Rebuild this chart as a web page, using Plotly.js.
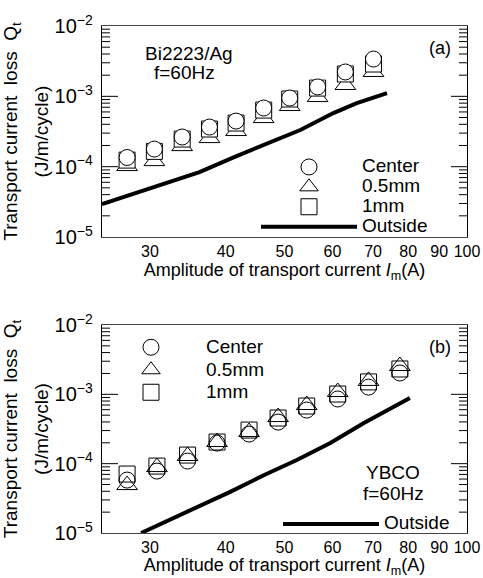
<!DOCTYPE html>
<html>
<head>
<meta charset="utf-8">
<script src="https://cdn.plot.ly/plotly-3.0.1.min.js"></script>
<style>html,body{margin:0;padding:0;background:#fff;}#chart{width:483px;height:578px;}</style>
</head>
<body>
<div id="chart"></div>
<script>
// ---- Data ----
// (a) Bi2223/Ag, f=60Hz
const currentA = [27.5, 30.5, 33.9, 37.6, 41.6, 46.2, 51.0, 56.7, 63.0, 70.1];
const lossCenterA = [1.35e-4, 1.78e-4, 2.64e-4, 3.66e-4, 4.45e-4, 6.82e-4, 9.46e-4, 1.36e-3, 2.22e-3, 3.39e-3];
const loss05mmA = [1.02e-4, 1.20e-4, 1.96e-4, 2.55e-4, 3.21e-4, 4.91e-4, 7.28e-4, 9.77e-4, 1.45e-3, 2.22e-3];
const loss1mmA = [1.24e-4, 1.65e-4, 2.47e-4, 3.43e-4, 4.17e-4, 6.38e-4, 9.16e-4, 1.31e-3, 2.08e-3, 2.88e-3];
const outsideCurrentA = [25.0, 31.2, 36.2, 41.3, 47.0, 53.1, 60.2, 65.8, 73.8];
const outsideLossA = [2.94e-5, 5.47e-5, 8.38e-5, 1.37e-4, 2.17e-4, 3.32e-4, 5.78e-4, 8.03e-4, 1.11e-3];

// (b) YBCO, f=60Hz
const currentB = [27.5, 30.8, 34.6, 38.7, 43.7, 48.8, 54.4, 61.2, 68.8, 77.5];
const lossCenterB = [5.80e-5, 7.82e-5, 1.09e-4, 1.98e-4, 2.67e-4, 3.98e-4, 5.93e-4, 8.56e-4, 1.27e-3, 2.03e-3];
const loss05mmB = [4.91e-5, 8.93e-5, 1.29e-4, 2.05e-4, 2.86e-4, 4.70e-4, 7.01e-4, 1.08e-3, 1.56e-3, 2.56e-3];
const loss1mmB = [7.08e-5, 9.23e-5, 1.33e-4, 2.05e-4, 3.05e-4, 4.55e-4, 6.78e-4, 1.01e-3, 1.51e-3, 2.32e-3];
const outsideCurrentB = [29.0, 34.3, 40.6, 46.3, 52.4, 59.5, 67.6, 80.5];
const outsideLossB = [1.0e-5, 1.94e-5, 3.89e-5, 6.85e-5, 1.127e-4, 1.98e-4, 3.85e-4, 8.84e-4];

// Tick labels
const xTickVals = [30, 40, 50, 60, 70, 80, 90, 100];
const xTickText = ['30', '40', '50', '60', '70', '80', '90', '100'];
const seriesNames = ['Center', '0.5mm', '1mm', 'Outside'];

// ---- Build ----
const big = s => '<span style="font-size:19px">' + s + '</span>';

function markerTrace(x, y, sym, size, name, rank, xa, ya, leg, fill) {
  return {
    x: x, y: y, xaxis: xa, yaxis: ya, type: 'scatter', mode: 'markers',
    name: big(name), legend: leg, legendrank: rank,
    marker: { symbol: sym, size: size, color: fill, line: { color: 'black', width: 1 } }
  };
}

const data = [
  markerTrace(currentA, loss05mmA, 'triangle-up', 18, seriesNames[1], 2, 'x', 'y', 'legend', 'white'),
  markerTrace(currentA, loss1mmA, 'square', 16, seriesNames[2], 3, 'x', 'y', 'legend', 'white'),
  markerTrace(currentA, lossCenterA, 'circle', 16, seriesNames[0], 1, 'x', 'y', 'legend', 'white'),
  { x: outsideCurrentA, y: outsideLossA, xaxis: 'x', yaxis: 'y', type: 'scatter', mode: 'lines',
    name: big(seriesNames[3]), legend: 'legend', legendrank: 4, line: { color: 'black', width: 4 } },
  markerTrace(currentB, loss05mmB, 'triangle-up-open', 18, seriesNames[1], 2, 'x2', 'y2', 'legend2', 'black'),
  markerTrace(currentB, loss1mmB, 'square-open', 16, seriesNames[2], 3, 'x2', 'y2', 'legend2', 'black'),
  markerTrace(currentB, lossCenterB, 'circle-open', 16, seriesNames[0], 1, 'x2', 'y2', 'legend2', 'black'),
  { x: outsideCurrentB, y: outsideLossB, xaxis: 'x2', yaxis: 'y2', type: 'scatter', mode: 'lines',
    name: big(seriesNames[3]), legend: 'legend3', legendrank: 4, line: { color: 'black', width: 4 } }
];

const FONT = 'Liberation Sans, Arial, Helvetica, sans-serif';
const Y_RANGE = [-5, -2];

function xAxis(anchor) {
  return {
    type: 'log', range: [Math.log10(25), 2], anchor: anchor,
    tickmode: 'array', tickvals: xTickVals, ticktext: xTickText,
    ticks: '', showline: true, mirror: true, showgrid: false,
    title: { text: 'Amplitude of transport current <i>I</i><sub>m</sub>(A)', font: { size: 18, color: 'black' }, standoff: 4 }
  };
}
function yAxis(anchor, domain) {
  return {
    type: 'log', range: Y_RANGE, anchor: anchor, domain: domain,
    tickmode: 'linear', tick0: 0, dtick: 1, exponentformat: 'power', showexponent: 'all',
    ticks: '', ticklabelstandoff: 5,
    showline: true, linecolor: 'black', linewidth: 1, mirror: true,
    showgrid: false, zeroline: false,
    title: {
      text: big('Transport current\u00a0 loss\u00a0 Q<sub>t</sub>') + '<br>' + big('(J/m/cycle)'),
      font: { size: 24, color: 'black' }, standoff: 2
    }
  };
}

// Inside tick marks on both sides of each log y axis (decades long, 2..9 short),
// placed along the axis domain from the axis range.
function tickShapes(xName, yName) {
  const shapes = [];
  const span = Y_RANGE[1] - Y_RANGE[0];
  for (let e = Y_RANGE[0]; e < Y_RANGE[1]; e++) {
    for (let k = 1; k <= 9; k++) {
      if (k === 1 && e === Y_RANGE[0]) continue;
      const f = (e + Math.log10(k) - Y_RANGE[0]) / span;
      const len = k === 1 ? 16 : 8;
      [[0, len], [1, -len]].forEach(([anc, l]) => {
        shapes.push({ type: 'line', xref: xName + ' domain', yref: yName + ' domain', xsizemode: 'pixel', xanchor: anc,
                      x0: 0, x1: l, y0: f, y1: f, line: { color: 'black', width: 1 }, layer: 'above' });
      });
    }
  }
  return shapes;
}

const W = 365, PT = 26, PH = 507;
const px = v => (v - 102) / W;
const py = v => 1 - (v - PT) / PH;

function note(text, x, y, size) {
  return { text: text, x: px(x), y: py(y), xref: 'paper', yref: 'paper', showarrow: false,
           xanchor: 'center', yanchor: 'middle', font: { size: size, color: 'black' } };
}

const layout = {
  width: 483, height: 578,
  margin: { l: 102, r: 16, t: 26, b: 45 },
  font: { family: FONT, size: 16, color: 'black' },
  showlegend: true,
  xaxis: xAxis('y'),
  yaxis: yAxis('x', [0.5838, 1]),
  xaxis2: xAxis('y2'),
  yaxis2: yAxis('x2', [0, 0.4103]),
  legend: { x: px(256), y: py(152), xanchor: 'left', yanchor: 'top', bgcolor: 'rgba(0,0,0,0)',
            itemwidth: 96, font: { size: 13, color: 'black' }, traceorder: 'normal' },
  legend2: { x: px(96), y: py(331), xanchor: 'left', yanchor: 'top', bgcolor: 'rgba(0,0,0,0)',
             itemwidth: 100, font: { size: 15, color: 'black' }, traceorder: 'normal' },
  legend3: { x: px(278), y: py(509), xanchor: 'left', yanchor: 'top', bgcolor: 'rgba(0,0,0,0)',
             itemwidth: 96, font: { size: 13, color: 'black' } },
  shapes: tickShapes('x', 'y').concat(tickShapes('x2', 'y2')),
  annotations: [
    note('Bi2223/Ag', 189, 53, 19),
    note('f=60Hz', 184, 72, 19),
    note('(a)', 440, 48, 18),
    note('(b)', 440, 347, 18),
    note('YBCO', 393, 472, 19),
    note('f=60Hz', 393, 493, 19)
  ]
};

Plotly.newPlot('chart', data, layout, { displayModeBar: false, staticPlot: true });
</script>
</body>
</html>
